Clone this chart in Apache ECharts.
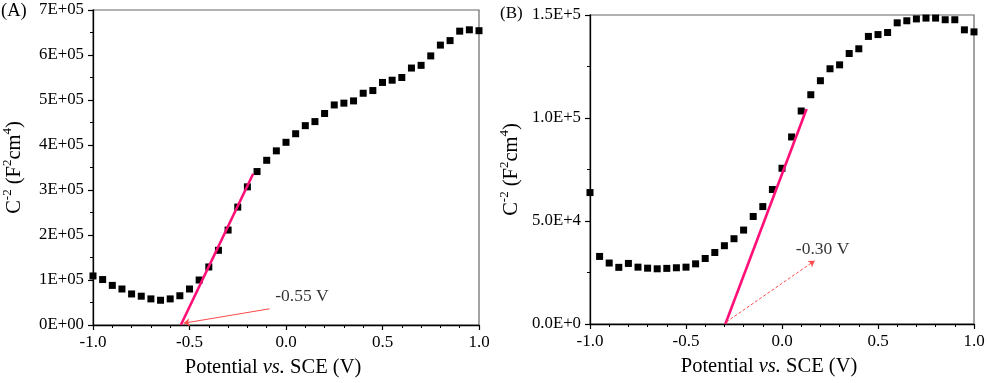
<!DOCTYPE html>
<html>
<head>
<meta charset="utf-8">
<script src="https://cdn.jsdelivr.net/npm/echarts@6/dist/echarts.min.js"></script>
<style>
html,body{margin:0;padding:0;background:#fff;}
#c{width:989px;height:383px;}
</style>
</head>
<body>
<div id="c"></div>
<script>
// ---- data ----
var potential = [-1.0,-0.95,-0.9,-0.85,-0.8,-0.75,-0.7,-0.65,-0.6,-0.55,-0.5,-0.45,-0.4,-0.35,-0.3,-0.25,-0.2,-0.15,-0.1,-0.05,
  0.0,0.05,0.1,0.15,0.2,0.25,0.3,0.35,0.4,0.45,0.5,0.55,0.6,0.65,0.7,0.75,0.8,0.85,0.9,0.95,1.0];
var cA = [1.09e5,1.01e5,0.88e5,0.80e5,0.69e5,0.64e5,0.58e5,0.55e5,0.58e5,0.65e5,0.80e5,1.00e5,1.29e5,1.66e5,2.11e5,2.62e5,3.07e5,3.41e5,3.66e5,3.87e5,
  4.06e5,4.25e5,4.43e5,4.52e5,4.70e5,4.89e5,4.93e5,4.98e5,5.15e5,5.21e5,5.39e5,5.44e5,5.50e5,5.71e5,5.77e5,5.98e5,6.22e5,6.32e5,6.53e5,6.56e5,6.54e5];
var cB = [6.38e4,3.28e4,2.96e4,2.75e4,2.94e4,2.76e4,2.71e4,2.68e4,2.70e4,2.73e4,2.76e4,2.92e4,3.18e4,3.47e4,3.80e4,4.14e4,4.56e4,5.22e4,5.70e4,6.53e4,
  7.56e4,9.08e4,10.34e4,11.13e4,11.81e4,12.39e4,12.58e4,13.13e4,13.36e4,13.96e4,14.05e4,14.15e4,14.62e4,14.72e4,14.81e4,14.85e4,14.85e4,14.77e4,14.77e4,14.28e4,14.18e4];
var fitA = [[-0.545, 0], [-0.17, 3.36e5]];
var fitB = [[-0.295, 0], [0.128, 1.044e5]];
var arrowA = [[-0.085, 0.36e5], [-0.53, 0.04e5]];
var arrowB = [[-0.29, 0.1e4], [0.17, 3.07e4]];
var noteA = ['-0.55 V', -0.056, 0.64e5];
var noteB = ['-0.30 V', 0.072, 3.64e4];
var xTickLabels = ['-1.0','-0.5','0.0','0.5','1.0'];
var yTickLabelsA = ['0E+00','1E+05','2E+05','3E+05','4E+05','5E+05','6E+05','7E+05'];
var yTickLabelsB = ['0.0E+0','5.0E+4','1.0E+5','1.5E+5'];
var panelTitles = ['(A)', '(B)'];

// ---- chart ----
var FONT = 'Liberation Serif';
var chart = echarts.init(document.getElementById('c'), null, {renderer:'canvas'});

function xAxisCfg(gi){
  return {
    type:'value', gridIndex:gi, min:-1, max:1, interval:0.5,
    axisLine:{show:true, onZero:false, lineStyle:{color:'#000', width:1.3}},
    axisTick:{show:true, inside:false, length:5, lineStyle:{color:'#000', width:1.2}},
    minorTick:{show:true, splitNumber:5, length:3, lineStyle:{color:'#000', width:1}},
    splitLine:{show:false}, minorSplitLine:{show:false},
    axisLabel:{margin:9, fontFamily:FONT, fontSize:17, color:'#000',
      formatter:function(v){ return xTickLabels[Math.round((v+1)/0.5)]; }},
    name:'{n|Potential }{i|vs.}{n| SCE (V)}', nameLocation:'middle', nameGap:32,
    nameTextStyle:{padding:[0,26,0,0], rich:{
      n:{fontFamily:FONT, fontSize:20.5, color:'#000'},
      i:{fontFamily:FONT, fontSize:20.5, fontStyle:'italic', color:'#000'}}}
  };
}
function yAxisCfg(gi, max, interval, labels){
  return {
    type:'value', gridIndex:gi, min:0, max:max, interval:interval,
    axisLine:{show:true, onZero:false, lineStyle:{color:'#000', width:1.3}},
    axisTick:{show:true, inside:false, length:5, lineStyle:{color:'#000', width:1.2}},
    minorTick:{show:true, splitNumber:2, length:3, lineStyle:{color:'#000', width:1}},
    splitLine:{show:false}, minorSplitLine:{show:false},
    axisLabel:{margin:9, fontFamily:FONT, fontSize:16.8, color:'#000',
      formatter:function(v){ return labels[Math.round(v/interval)]; }},
    name:'{n|C}{s|-2}{n| (F}{s|2}{n|cm}{s|4}{n|)}', nameLocation:'middle', nameGap:68, nameRotate:90,
    nameTextStyle:{rich:{
      n:{fontFamily:FONT, fontSize:20.5, color:'#000', lineHeight:24, verticalAlign:'bottom'},
      s:{fontFamily:FONT, fontSize:13, color:'#000', lineHeight:24, verticalAlign:'top'}}}
  };
}
function pts(ys){ return potential.map(function(x,i){ return [x, ys[i]]; }); }

function scatterSeries(gi, ys){
  return {type:'scatter', xAxisIndex:gi, yAxisIndex:gi, data:pts(ys), symbol:'rect', symbolSize:7,
    itemStyle:{color:'#000', opacity:1}, clip:true, silent:true, z:3};
}
function fitSeries(gi, d){
  return {type:'line', xAxisIndex:gi, yAxisIndex:gi, data:d, symbol:'none',
    lineStyle:{color:'#FF0F78', width:2.6}, silent:true, z:4};
}
function arrowSeries(gi, a, dashed){
  return {type:'line', xAxisIndex:gi, yAxisIndex:gi, data:[], symbol:'none', silent:true,
    markLine:{silent:true, animation:false, symbol:['none','arrow'], symbolSize:6,
      label:{show:false},
      lineStyle:{color:'#FF4A4A', width:1, type: dashed ? [3,2] : 'solid'},
      data:[[{coord:a[0]},{coord:a[1]}]]}};
}
function noteSeries(gi, n){
  return {type:'scatter', xAxisIndex:gi, yAxisIndex:gi, data:[[n[1], n[2]]], symbolSize:0, silent:true,
    label:{show:true, position:'right', distance:0, formatter:n[0],
      fontFamily:FONT, fontSize:17.5, color:'#000'}};
}

var option = {
  animation:false,
  backgroundColor:'#fff',
  grid:[
    {left:90, top:10, width:389, height:316, show:true, borderColor:'#666', borderWidth:1.2, backgroundColor:'transparent'},
    {left:590, top:15, width:384, height:309, show:true, borderColor:'#666', borderWidth:1.2, backgroundColor:'transparent'}
  ],
  xAxis:[xAxisCfg(0), xAxisCfg(1)],
  yAxis:[yAxisCfg(0, 7e5, 1e5, yTickLabelsA), yAxisCfg(1, 1.5e5, 5e4, yTickLabelsB)],
  graphic:[
    {type:'text', left:1, top:2, style:{text:panelTitles[0], fontFamily:FONT, fontSize:18.5, fill:'#000'}},
    {type:'text', left:500, top:5, style:{text:panelTitles[1], fontFamily:FONT, fontSize:17, fill:'#000'}}
  ],
  series:[
    scatterSeries(0, cA), fitSeries(0, fitA), arrowSeries(0, arrowA, false), noteSeries(0, noteA),
    scatterSeries(1, cB), fitSeries(1, fitB), arrowSeries(1, arrowB, true), noteSeries(1, noteB)
  ]
};
chart.setOption(option);
</script>
</body>
</html>
